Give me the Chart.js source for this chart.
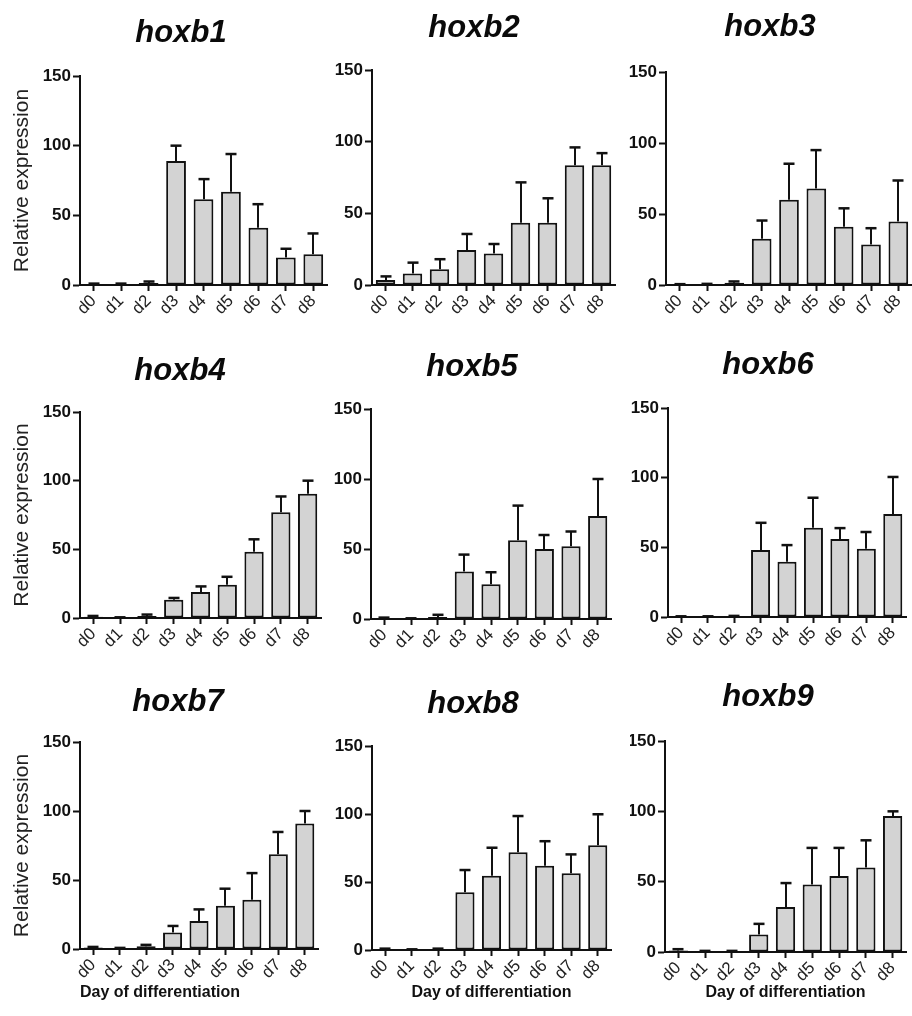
<!DOCTYPE html>
<html><head><meta charset="utf-8">
<script src="https://cdn.jsdelivr.net/npm/chart.js@4.4.0/dist/chart.umd.min.js"></script>
<style>
html,body{margin:0;padding:0;background:#fff;width:912px;height:1016px;overflow:hidden;}
#wrap{position:relative;width:912px;height:1016px;overflow:hidden;}
canvas{position:absolute;}
</style></head><body><div id="wrap"></div>
<script>
// ---------- data ----------
const days = ['d0','d1','d2','d3','d4','d5','d6','d7','d8'];
const yTicks = [0, 50, 100, 150];
const genes = ['hoxb1','hoxb2','hoxb3','hoxb4','hoxb5','hoxb6','hoxb7','hoxb8','hoxb9'];

const hoxb1Mean = [0.5, 0.5, 1.5, 89, 61.5, 67, 41, 19.7, 22];
const hoxb1Err  = [0.5, 0.5, 1, 11, 14.5, 27, 17, 6.3, 15];
const hoxb2Mean = [3.5, 8, 11, 24.4, 22, 43.5, 43.5, 83.5, 83.5];
const hoxb2Err  = [2.5, 7.6, 7, 11.2, 6.6, 28.1, 17, 12.5, 8.5];
const hoxb3Mean = [0.3, 0.5, 1.5, 32.5, 60, 68, 41, 28.5, 44.7];
const hoxb3Err  = [0.3, 0.3, 1, 12.9, 25.4, 27, 13, 11.5, 28.9];
const hoxb4Mean = [1, 0.3, 1.5, 13.3, 19, 24.3, 48.3, 77, 90.5];
const hoxb4Err  = [0.5, 0.2, 1, 1.3, 4, 5.7, 9, 11.5, 9.5];
const hoxb5Mean = [0.5, 0.3, 1.5, 34, 24.8, 56.3, 50, 52, 73.5];
const hoxb5Err  = [0.5, 0.2, 1.5, 12, 8.6, 24.7, 10, 10.5, 26.5];
const hoxb6Mean = [0.3, 0.3, 0.5, 48, 39.6, 64, 56, 49, 74];
const hoxb6Err  = [0.2, 0.2, 0.3, 19.6, 12, 21.6, 7.8, 12, 26.5];
const hoxb7Mean = [1, 0.5, 2, 12, 20.3, 31.4, 35.7, 68.6, 91];
const hoxb7Err  = [0.5, 0.3, 1, 4.7, 8.4, 12.3, 19.3, 16.2, 9];
const hoxb8Mean = [0.5, 0.3, 0.5, 42.4, 54.6, 71.8, 62, 56.4, 77];
const hoxb8Err  = [0.5, 0.2, 0.5, 16.4, 20.6, 26.7, 18, 13.9, 22.8];
const hoxb9Mean = [1, 0.5, 0.5, 12.5, 32, 48, 54, 60, 96.7];
const hoxb9Err  = [1, 0.3, 0.3, 7.5, 17, 26, 20, 19.4, 3.3];

const yTitleText = 'Relative expression';
const xTitleText = 'Day of differentiation';

// ---------- layout (positions only) ----------
const FONT = "'Liberation Sans', Arial, Helvetica, sans-serif";
const panels = [
  {mean: hoxb1Mean, err: hoxb1Err, L: 0,   T: 0,   axisX: 80,  topY: 76,  zeroY: 285, rightX: 327, tcx: 181, tcy: 33,  yTitle: true,  xTitle: false},
  {mean: hoxb2Mean, err: hoxb2Err, L: 300, T: 0,   axisX: 372, topY: 70,  zeroY: 285, rightX: 615, tcx: 474, tcy: 28,  yTitle: false, xTitle: false},
  {mean: hoxb3Mean, err: hoxb3Err, L: 600, T: 0,   axisX: 666, topY: 72,  zeroY: 285, rightX: 912, tcx: 770, tcy: 27,  yTitle: false, xTitle: false},
  {mean: hoxb4Mean, err: hoxb4Err, L: 0,   T: 330, axisX: 80,  topY: 412, zeroY: 618, rightX: 321, tcx: 180, tcy: 371, yTitle: true,  xTitle: false},
  {mean: hoxb5Mean, err: hoxb5Err, L: 300, T: 330, axisX: 371, topY: 409, zeroY: 619, rightX: 611, tcx: 472, tcy: 367, yTitle: false, xTitle: false},
  {mean: hoxb6Mean, err: hoxb6Err, L: 600, T: 330, axisX: 668, topY: 408, zeroY: 617, rightX: 906, tcx: 768, tcy: 365, yTitle: false, xTitle: false},
  {mean: hoxb7Mean, err: hoxb7Err, L: 0,   T: 660, axisX: 80,  topY: 742, zeroY: 949, rightX: 318, tcx: 178, tcy: 702, yTitle: true,  xTitle: 'start'},
  {mean: hoxb8Mean, err: hoxb8Err, L: 300, T: 660, axisX: 372, topY: 746, zeroY: 950, rightX: 611, tcx: 473, tcy: 704, yTitle: false, xTitle: 'center'},
  {mean: hoxb9Mean, err: hoxb9Err, L: 600, T: 660, axisX: 665, topY: 741, zeroY: 952, rightX: 906, tcx: 768, tcy: 697, yTitle: false, xTitle: 'center'}
];

const TITLE_SIZE = 31, TITLE_LH = TITLE_SIZE * 1.2;
const YT_SIZE = 21, YT_LH = YT_SIZE * 1.2;
const XT_SIZE = 16, XT_LH = XT_SIZE * 1.2;
const XT_CENTER_Y = 993;
const Y_TITLE_CX = 22;

const errorBarPlugin = {
  id: 'errorBars',
  afterDatasetsDraw(chart, args, opts) {
    const meta = chart.getDatasetMeta(0);
    const ys = chart.scales.y;
    const means = chart.data.datasets[0].data;
    const errs = opts.errors || [];
    const ctx = chart.ctx;
    ctx.save();
    ctx.strokeStyle = '#111';
    meta.data.forEach((bar, i) => {
      const x = Math.round(bar.x);
      const y0 = ys.getPixelForValue(means[i]);
      const y1 = ys.getPixelForValue(means[i] + (errs[i] || 0));
      ctx.lineWidth = 2;
      ctx.beginPath(); ctx.moveTo(x, y0); ctx.lineTo(x, y1); ctx.stroke();
      ctx.lineWidth = 2.5;
      ctx.beginPath(); ctx.moveTo(x - 5.5, y1); ctx.lineTo(x + 5.5, y1); ctx.stroke();
    });
    ctx.restore();
  }
};

Chart.defaults.color = '#111';
Chart.defaults.font.family = FONT;

const wrap = document.getElementById('wrap');
panels.forEach((p, idx) => {
  const isBottom = p.T >= 660;
  const H = isBottom ? (1016 - p.T) : (p.zeroY - p.T + 45);
  const pr = 2;
  const W = p.rightX - p.L + pr;
  const leftEdge = 2 * p.tcx - p.rightX;   // absolute x of title box left / y-scale left
  const pl = leftEdge - p.L;
  const yW = p.axisX - leftEdge;
  const tTop = p.tcy - p.T - TITLE_LH / 2;
  const tBottom = p.topY - p.T - tTop - TITLE_LH;
  const xH = p.T + H - p.zeroY;
  const yTitlePad = Y_TITLE_CX - leftEdge - YT_LH / 2;
  const xTitlePad = (p.T + H) - XT_CENTER_Y - XT_LH / 2;

  const c = document.createElement('canvas');
  c.width = W; c.height = H;
  c.style.left = p.L + 'px'; c.style.top = p.T + 'px';
  c.style.width = W + 'px'; c.style.height = H + 'px';
  wrap.appendChild(c);

  new Chart(c, {
    type: 'bar',
    data: {
      labels: days,
      datasets: [{
        data: p.mean,
        backgroundColor: '#d3d3d3',
        borderColor: '#111',
        borderWidth: 2,
        borderSkipped: false,
        categoryPercentage: 1.0,
        barPercentage: 0.72
      }]
    },
    options: {
      responsive: false,
      animation: false,
      devicePixelRatio: 1,
      layout: {padding: {left: pl, right: pr, top: 0, bottom: 0}},
      plugins: {
        legend: {display: false},
        tooltip: {enabled: false},
        title: {
          display: true,
          text: genes[idx],
          color: '#0a0a0a',
          font: {family: FONT, size: TITLE_SIZE, weight: 'bold', style: 'italic', lineHeight: 1.2},
          padding: {top: tTop, bottom: tBottom}
        },
        errorBars: {errors: p.err}
      },
      scales: {
        x: {
          type: 'category',
          offset: true,
          grid: {display: true, drawOnChartArea: false, drawTicks: true, offset: false,
                 tickLength: 6, tickWidth: 2, tickColor: '#111', color: '#111'},
          border: {display: true, color: '#111', width: 2},
          ticks: {autoSkip: false, minRotation: 45, maxRotation: 45, padding: 0,
                  color: '#222', font: {family: FONT, size: 17}},
          title: {
            display: !!p.xTitle,
            text: xTitleText,
            align: p.xTitle || 'center',
            color: '#111',
            font: {family: FONT, size: XT_SIZE, weight: 'bold', lineHeight: 1.2},
            padding: {top: 0, bottom: xTitlePad}
          },
          afterFit(s) { s.height = xH; s.paddingLeft = 0; s.paddingRight = 0; }
        },
        y: {
          min: 0, max: 150,
          grid: {display: true, drawOnChartArea: false, drawTicks: true,
                 tickLength: 7, tickWidth: 2, tickColor: '#111', color: '#111'},
          border: {display: true, color: '#111', width: 2},
          ticks: {padding: 2, color: '#111', font: {family: FONT, size: 17, weight: 'bold'}},
          afterBuildTicks(s) { s.ticks = yTicks.map(v => ({value: v})); },
          title: {
            display: p.yTitle,
            text: yTitleText,
            color: '#222',
            font: {family: FONT, size: YT_SIZE, lineHeight: 1.2},
            padding: {top: yTitlePad, bottom: 0}
          },
          afterFit(s) { s.width = yW; s.paddingTop = 0; s.paddingBottom = 0; }
        }
      }
    },
    plugins: [errorBarPlugin]
  });
});
</script>
</body></html>
